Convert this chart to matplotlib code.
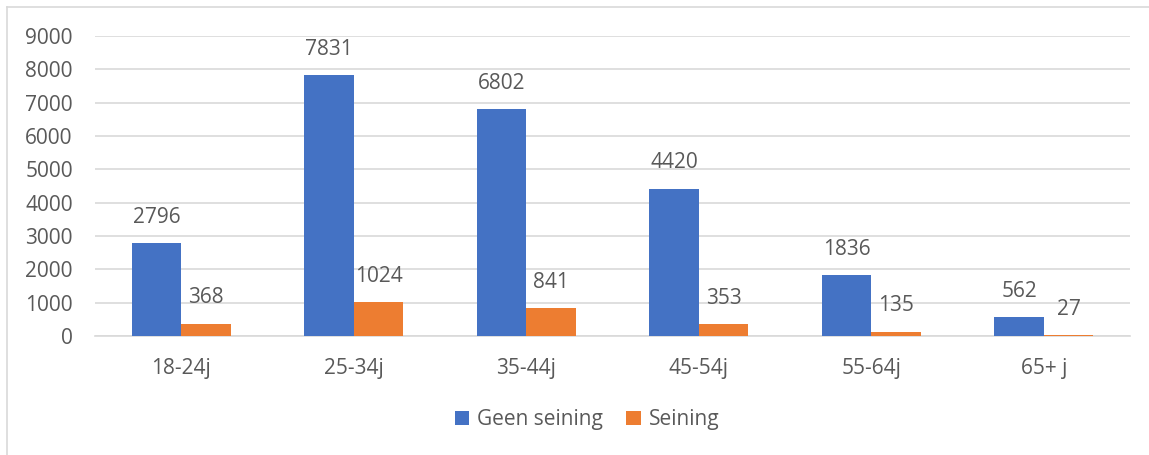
import numpy as np
import matplotlib.pyplot as plt
from matplotlib.lines import Line2D

# Leeftijdsgroepen en aantallen
categories = ['18-24j', '25-34j', '35-44j', '45-54j', '55-64j', '65+ j']
geen_seining = [2796, 7831, 6802, 4420, 1836, 562]
seining = [368, 1024, 841, 353, 135, 27]

blue = '#4472C4'
orange = '#ED7D31'
grey_txt = '#595959'
grid_col = '#D9D9D9'

plt.rcParams['font.family'] = ['Open Sans', 'DejaVu Sans']
plt.rcParams['font.size'] = 15

fig = plt.figure(figsize=(11.49, 4.55), dpi=100)
ax = fig.add_axes([0.0827, 0.2615, 0.9008, 0.6594])

x = np.arange(len(categories))
w = 0.287
b1 = ax.bar(x - w / 2, geen_seining, w, color=blue, label='Geen seining', zorder=3)
b2 = ax.bar(x + w / 2, seining, w, color=orange, label='Seining', zorder=3)

# Waarden boven de staven
for bars, vals in ((b1, geen_seining), (b2, seining)):
    for rect, v in zip(bars, vals):
        ax.annotate(str(v), (rect.get_x() + rect.get_width() / 2, v),
                    xytext=(0, 11), textcoords='offset points',
                    ha='center', va='bottom', color=grey_txt, fontsize=15)

ax.set_xlim(-0.5, len(categories) - 0.5)
ax.set_ylim(0, 9000)
ax.set_yticks(np.arange(0, 9001, 1000))
ax.set_xticks(x)
ax.set_xticklabels(categories)
ax.tick_params(axis='both', length=0, colors=grey_txt, labelsize=15)
ax.tick_params(axis='y', pad=16)
ax.tick_params(axis='x', pad=16)
ax.yaxis.grid(True, color=grid_col, linewidth=1.2, zorder=0)
for s in ['top', 'right', 'left']:
    ax.spines[s].set_visible(False)
ax.spines['bottom'].set_color(grid_col)
ax.spines['bottom'].set_linewidth(1.2)

leg = fig.legend(loc='center', bbox_to_anchor=(0.511, 0.077), ncol=2, frameon=False,
                 handlelength=0.7, handleheight=0.7, columnspacing=1.1,
                 handletextpad=0.4, fontsize=15)
for t in leg.get_texts():
    t.set_color(grey_txt)

# Rand rond de grafiek
fig.add_artist(Line2D([7 / 1149, 7 / 1149], [0, 1 - 7 / 455], color=grid_col, linewidth=1.2))
fig.add_artist(Line2D([7 / 1149, 1], [1 - 7 / 455, 1 - 7 / 455], color=grid_col, linewidth=1.2))

fig.savefig('out.png', dpi=100)
